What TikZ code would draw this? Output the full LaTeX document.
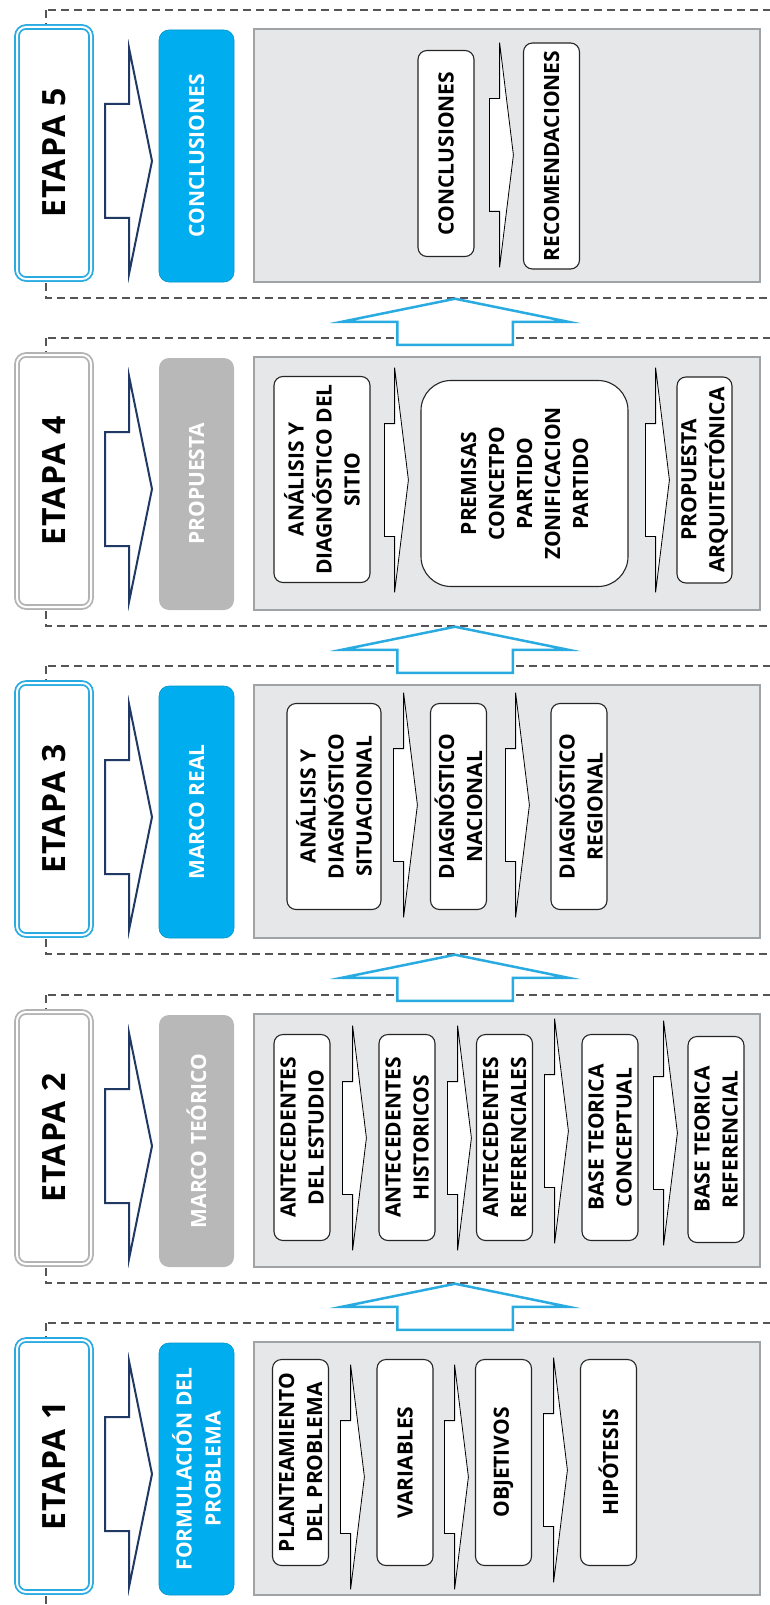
\documentclass[tikz,border=0pt]{standalone}
\usepackage{fontspec}
\setmainfont{Open Sans}
\newfontfamily\etapafont[LetterSpace=4]{Open Sans}
\usetikzlibrary{shapes.geometric, shapes.arrows}
\definecolor{etapablue}{HTML}{29ABE2}
\definecolor{fasecyan}{HTML}{00AEEF}
\definecolor{fasegray}{HTML}{B8B8B8}
\definecolor{labelgray}{HTML}{B3B3B3}
\definecolor{panelfill}{HTML}{E6E7E8}
\definecolor{panelline}{HTML}{A0A3A6}
\definecolor{navyline}{HTML}{1F3864}
\definecolor{dashline}{HTML}{555555}
\tikzstyle{band_frame} = [draw=dashline, dash pattern=on 8pt off 5pt, line width=1.2pt]
\tikzstyle{etapa} = [rectangle, rounded corners=9pt, fill=white, double=white, double distance=2pt, line width=1.8pt, minimum width=252pt, minimum height=74pt, rotate=90, font=\etapafont\fontsize{32}{38}\selectfont\bfseries]
\tikzstyle{blue_etapa} = [etapa, draw=etapablue]
\tikzstyle{gray_etapa} = [etapa, draw=labelgray]
\tikzstyle{fase} = [rectangle, rounded corners=10pt, minimum width=252pt, minimum height=75pt, rotate=90, text=white, align=center, font=\fontsize{21}{29}\selectfont\bfseries]
\tikzstyle{blue_fase} = [fase, fill=fasecyan, draw=fasecyan!85!black, line width=0.6pt]
\tikzstyle{gray_fase} = [fase, fill=fasegray]
\tikzstyle{panel} = [rectangle, fill=panelfill, draw=panelline, line width=1.5pt, minimum width=506pt, minimum height=253pt]
\tikzstyle{inner_box} = [rectangle, rounded corners=9pt, fill=white, draw=black!85, line width=1.1pt, rotate=90, align=center, inner sep=0pt, minimum width=206pt, minimum height=56pt, font=\fontsize{21}{28}\selectfont\bfseries]
\tikzstyle{navy_arrow} = [single arrow, anchor=tail, draw=navyline, line width=2pt, fill=white, inner xsep=0pt, inner ysep=56pt, minimum height=47pt, minimum width=223pt, single arrow head extend=55pt, single arrow tip angle=157]
\tikzstyle{small_arrow} = [single arrow, anchor=tail, draw=black, line width=0.8pt, fill=white, inner xsep=0pt, inner ysep=56pt, minimum height=24pt, minimum width=224pt, single arrow head extend=56pt, single arrow tip angle=166]
\tikzstyle{up_arrow} = [single arrow, anchor=tail, draw=etapablue, line width=2.5pt, fill=white, inner xsep=0pt, inner ysep=56.5pt, minimum height=46pt, minimum width=224pt, single arrow head extend=55.5pt, single arrow tip angle=157, rotate=90]

\begin{document}
\begin{tikzpicture}[x=1pt, y=-1pt]
		\useasboundingbox (0,0) rectangle (770,1605);
		\draw [band_frame] (46,10) rectangle (790,298);
		\draw [band_frame] (46,338) rectangle (790,626);
		\draw [band_frame] (46,666) rectangle (790,954);
		\draw [band_frame] (46,995) rectangle (790,1283);
		\draw [band_frame] (46,1323) rectangle (790,1611);

		\node (up4) [up_arrow] at (455,346) {};
		\node (up3) [up_arrow] at (455,674) {};
		\node (up2) [up_arrow] at (455,1002) {};
		\node (up1) [up_arrow] at (455,1331) {};

		\node (e5) [blue_etapa] at (54,153) {ETAPA 5};
		\node (e4) [gray_etapa] at (54,481) {ETAPA 4};
		\node (e3) [blue_etapa] at (54,809) {ETAPA 3};
		\node (e2) [gray_etapa] at (54,1138) {ETAPA 2};
		\node (e1) [blue_etapa] at (54,1466) {ETAPA 1};

		\node (na5) [navy_arrow] at (104,161) {};
		\node (na4) [navy_arrow] at (104,489) {};
		\node (na3) [navy_arrow] at (104,817) {};
		\node (na2) [navy_arrow] at (104,1146) {};
		\node (na1) [navy_arrow] at (104,1474) {};

		\node (f5) [blue_fase] at (196.5,156) {CONCLUSIONES};
		\node (f4) [gray_fase] at (196.5,484) {PROPUESTA};
		\node (f3) [blue_fase] at (196.5,812) {MARCO REAL};
		\node (f2) [gray_fase] at (196.5,1141) {MARCO TEÓRICO};
		\node (f1) [blue_fase] at (196.5,1469) {FORMULACIÓN DEL\\PROBLEMA};

		\node (p5) [panel] at (507,155.5) {};
		\node (p4) [panel] at (507,483.5) {};
		\node (p3) [panel] at (507,811.5) {};
		\node (p2) [panel] at (507,1140.5) {};
		\node (p1) [panel] at (507,1468.5) {};

		% etapa 5
		\node (c1) [inner_box] at (446,153.5) {CONCLUSIONES};
		\node (c2) [inner_box, minimum width=226pt] at (551.5,156) {RECOMENDACIONES};
		\node (ca1) [small_arrow] at (489,155) {};

		% etapa 4
		\node (s1) [inner_box, minimum height=96pt] at (322,479.5) {ANÁLISIS Y\\DIAGNÓSTICO DEL\\SITIO};
		\node (s2) [inner_box, minimum height=207pt, rounded corners=30pt] at (524.5,483.5) {PREMISAS\\CONCETPO\\PARTIDO\\ZONIFICACION\\PARTIDO};
		\node (s3) [inner_box, minimum height=55pt] at (704.5,480) {PROPUESTA\\ARQUITECTÓNICA};
		\node (sa1) [small_arrow] at (384,480) {};
		\node (sa2) [small_arrow] at (645,480) {};

		% etapa 3
		\node (r1) [inner_box, minimum height=94pt] at (334,806.5) {ANÁLISIS Y\\DIAGNÓSTICO\\SITUACIONAL};
		\node (r2) [inner_box] at (458.5,806.5) {DIAGNÓSTICO\\NACIONAL};
		\node (r3) [inner_box] at (579,806.5) {DIAGNÓSTICO\\REGIONAL};
		\node (ra1) [small_arrow] at (393,805) {};
		\node (ra2) [small_arrow] at (505,805) {};

		% etapa 2
		\node (t1) [inner_box] at (302,1137.5) {ANTECEDENTES\\DEL ESTUDIO};
		\node (t2) [inner_box] at (407,1137.5) {ANTECEDENTES\\HISTORICOS};
		\node (t3) [inner_box] at (504.5,1137.5) {ANTECEDENTES\\REFERENCIALES};
		\node (t4) [inner_box] at (610,1137.5) {BASE TEORICA\\CONCEPTUAL};
		\node (t5) [inner_box] at (716,1139.5) {BASE TEORICA\\REFERENCIAL};
		\node (ta1) [small_arrow] at (342,1138) {};
		\node (ta2) [small_arrow] at (447,1138) {};
		\node (ta3) [small_arrow] at (544,1131) {};
		\node (ta4) [small_arrow] at (653,1133) {};

		% etapa 1
		\node (q1) [inner_box] at (300.5,1462.5) {PLANTEAMIENTO\\DEL PROBLEMA};
		\node (q2) [inner_box] at (405,1462.5) {VARIABLES};
		\node (q3) [inner_box] at (503.5,1462.5) {OBJETIVOS};
		\node (q4) [inner_box] at (608.5,1462.5) {HIPÓTESIS};
		\node (qa1) [small_arrow] at (340,1477) {};
		\node (qa2) [small_arrow] at (444,1477) {};
		\node (qa3) [small_arrow] at (543,1470) {};

\end{tikzpicture}
\end{document}
